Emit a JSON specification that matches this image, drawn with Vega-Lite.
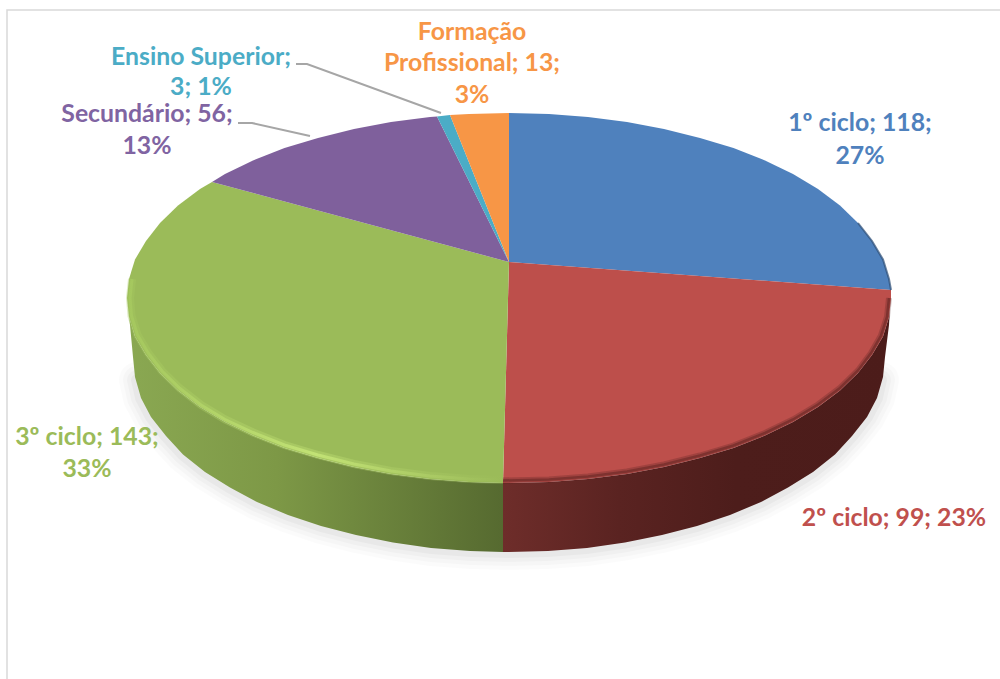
{
"$schema":"https://vega.github.io/schema/vega-lite/v6.json",
"width":1000,"height":679,"autosize":"none","padding":0,"background":"white",
"config":{"view":{"stroke":null}},
"datasets":{
"faces":[
{"category":"1º ciclo","x":509,"y":262},{"category":"1º ciclo","x":509,"y":113},{"category":"1º ciclo","x":549,"y":114},{"category":"1º ciclo","x":588,"y":117},{"category":"1º ciclo","x":627,"y":122},{"category":"1º ciclo","x":664,"y":129},{"category":"1º ciclo","x":700,"y":138},{"category":"1º ciclo","x":733.5,"y":148},{"category":"1º ciclo","x":765,"y":160.5},{"category":"1º ciclo","x":793,"y":174},{"category":"1º ciclo","x":818,"y":189},{"category":"1º ciclo","x":840,"y":205.5},{"category":"1º ciclo","x":858,"y":223},{"category":"1º ciclo","x":872,"y":241},{"category":"1º ciclo","x":883,"y":259.5},{"category":"1º ciclo","x":889,"y":279},{"category":"1º ciclo","x":891,"y":290},
{"category":"2º ciclo","x":509,"y":262},{"category":"2º ciclo","x":891,"y":290},{"category":"2º ciclo","x":891,"y":298},{"category":"2º ciclo","x":889,"y":317},{"category":"2º ciclo","x":883,"y":336.5},{"category":"2º ciclo","x":872,"y":355},{"category":"2º ciclo","x":858,"y":373},{"category":"2º ciclo","x":840,"y":390.5},{"category":"2º ciclo","x":818,"y":407},{"category":"2º ciclo","x":793,"y":422},{"category":"2º ciclo","x":765,"y":435.5},{"category":"2º ciclo","x":733.5,"y":448},{"category":"2º ciclo","x":700,"y":458},{"category":"2º ciclo","x":664,"y":467},{"category":"2º ciclo","x":627,"y":474},{"category":"2º ciclo","x":588,"y":479},{"category":"2º ciclo","x":549,"y":482},{"category":"2º ciclo","x":509,"y":483},{"category":"2º ciclo","x":503,"y":483},
{"category":"3º ciclo","x":509,"y":262},{"category":"3º ciclo","x":503,"y":483},{"category":"3º ciclo","x":469,"y":482},{"category":"3º ciclo","x":430,"y":479},{"category":"3º ciclo","x":391,"y":474},{"category":"3º ciclo","x":354,"y":467},{"category":"3º ciclo","x":318,"y":458},{"category":"3º ciclo","x":284.5,"y":448},{"category":"3º ciclo","x":253,"y":435.5},{"category":"3º ciclo","x":225,"y":422},{"category":"3º ciclo","x":200,"y":407},{"category":"3º ciclo","x":178,"y":390.5},{"category":"3º ciclo","x":160,"y":373},{"category":"3º ciclo","x":146,"y":355},{"category":"3º ciclo","x":135,"y":336.5},{"category":"3º ciclo","x":129,"y":317},{"category":"3º ciclo","x":127,"y":298},{"category":"3º ciclo","x":129,"y":279},{"category":"3º ciclo","x":135,"y":259.5},{"category":"3º ciclo","x":146,"y":241},{"category":"3º ciclo","x":160,"y":223},{"category":"3º ciclo","x":178,"y":205.5},{"category":"3º ciclo","x":200,"y":189},{"category":"3º ciclo","x":212,"y":182},
{"category":"Secundário","x":509,"y":262},{"category":"Secundário","x":212,"y":182},{"category":"Secundário","x":225,"y":174},{"category":"Secundário","x":253,"y":160.5},{"category":"Secundário","x":284.5,"y":148},{"category":"Secundário","x":318,"y":138},{"category":"Secundário","x":354,"y":129},{"category":"Secundário","x":391,"y":122},{"category":"Secundário","x":430,"y":117},{"category":"Secundário","x":437,"y":116.5},
{"category":"Ensino Superior","x":509,"y":262},{"category":"Ensino Superior","x":437,"y":116.5},{"category":"Ensino Superior","x":450,"y":115},
{"category":"Formação Profissional","x":509,"y":262},{"category":"Formação Profissional","x":450,"y":115},{"category":"Formação Profissional","x":469,"y":114},{"category":"Formação Profissional","x":509,"y":113}
],
"redWall":[{"x":891,"y":290},{"x":891,"y":298},{"x":889,"y":317},{"x":883,"y":336.5},{"x":872,"y":355},{"x":858,"y":373},{"x":840,"y":390.5},{"x":818,"y":407},{"x":793,"y":422},{"x":765,"y":435.5},{"x":733.5,"y":448},{"x":700,"y":458},{"x":664,"y":467},{"x":627,"y":474},{"x":588,"y":479},{"x":549,"y":482},{"x":509,"y":483},{"x":503,"y":483},{"x":503,"y":552},{"x":509,"y":552},{"x":548,"y":551},{"x":587,"y":548},{"x":625,"y":542.5},{"x":662,"y":535},{"x":697,"y":526},{"x":730,"y":515},{"x":761,"y":502},{"x":788,"y":487.5},{"x":813,"y":472},{"x":835,"y":454.5},{"x":852,"y":436},{"x":867,"y":417},{"x":877,"y":398},{"x":883,"y":377},{"x":885,"y":357},{"x":889,"y":325}],
"greenWall":[{"x":503,"y":483},{"x":469,"y":482},{"x":430,"y":479},{"x":391,"y":474},{"x":354,"y":467},{"x":318,"y":458},{"x":284.5,"y":448},{"x":253,"y":435.5},{"x":225,"y":422},{"x":200,"y":407},{"x":178,"y":390.5},{"x":160,"y":373},{"x":146,"y":355},{"x":135,"y":336.5},{"x":129,"y":317},{"x":127,"y":298},{"x":130,"y":325},{"x":133,"y":357},{"x":135,"y":377},{"x":141,"y":398},{"x":151,"y":417},{"x":166,"y":436},{"x":183,"y":454.5},{"x":205,"y":472},{"x":230,"y":487.5},{"x":257,"y":502},{"x":288,"y":515},{"x":321,"y":526},{"x":356,"y":535},{"x":393,"y":542.5},{"x":431,"y":548},{"x":470,"y":551},{"x":503,"y":552}],
"lowerEdge":[{"x":881,"y":380},{"x":877,"y":398},{"x":867,"y":417},{"x":852,"y":436},{"x":835,"y":454.5},{"x":813,"y":472},{"x":788,"y":487.5},{"x":761,"y":502},{"x":730,"y":515},{"x":697,"y":526},{"x":662,"y":535},{"x":625,"y":542.5},{"x":587,"y":548},{"x":548,"y":551},{"x":509,"y":552},{"x":470,"y":551},{"x":431,"y":548},{"x":393,"y":542.5},{"x":356,"y":535},{"x":321,"y":526},{"x":288,"y":515},{"x":257,"y":502},{"x":230,"y":487.5},{"x":205,"y":472},{"x":183,"y":454.5},{"x":166,"y":436},{"x":151,"y":417},{"x":141,"y":398},{"x":137,"y":380}],
"greenRim":[{"x":503,"y":480},{"x":469,"y":479},{"x":430,"y":476},{"x":391,"y":471},{"x":354,"y":464},{"x":318,"y":455},{"x":284.5,"y":445},{"x":253,"y":432.5},{"x":225,"y":419.5},{"x":201,"y":405},{"x":180,"y":388.5},{"x":162,"y":371},{"x":148.5,"y":353.5},{"x":137.5,"y":335},{"x":131.5,"y":316},{"x":130,"y":298},{"x":132,"y":279}],
"redRim":[{"x":503,"y":480.5},{"x":549,"y":479.5},{"x":588,"y":476.5},{"x":627,"y":471.5},{"x":664,"y":464.5},{"x":700,"y":455.5},{"x":733.5,"y":445.5},{"x":765,"y":433},{"x":793,"y":419.5},{"x":818,"y":404.5},{"x":840,"y":388},{"x":858,"y":370.5},{"x":871,"y":353},{"x":881,"y":335.5},{"x":887,"y":317},{"x":889,"y":298}],
"blueRim":[{"x":858,"y":223},{"x":872,"y":241},{"x":883,"y":259.5},{"x":889,"y":279},{"x":891,"y":290}],
"leaders":[{"label":"Ensino Superior","x":296,"y":64},{"label":"Ensino Superior","x":307,"y":64},{"label":"Ensino Superior","x":441,"y":113},{"label":"Secundário","x":238,"y":123},{"label":"Secundário","x":252,"y":123},{"label":"Secundário","x":310,"y":136}],
"frame":[{"x":7,"y":679},{"x":7,"y":10},{"x":1000,"y":10}],
"labels":[
{"category":"1º ciclo","text":"1º ciclo; 118;","x":860,"y":124},{"category":"1º ciclo","text":"27%","x":860,"y":157},
{"category":"2º ciclo","text":"2º ciclo; 99; 23%","x":894,"y":519},
{"category":"3º ciclo","text":"3º ciclo; 143;","x":87,"y":438},{"category":"3º ciclo","text":"33%","x":87,"y":470},
{"category":"Secundário","text":"Secundário; 56;","x":147,"y":115},{"category":"Secundário","text":"13%","x":147,"y":147},
{"category":"Ensino Superior","text":"Ensino Superior;","x":201,"y":58},{"category":"Ensino Superior","text":"3; 1%","x":201,"y":88},
{"category":"Formação Profissional","text":"Formação","x":472,"y":33},{"category":"Formação Profissional","text":"Profissional; 13;","x":472,"y":64},{"category":"Formação Profissional","text":"3%","x":472,"y":96}
]},
"encoding":{
"x":{"field":"x","type":"quantitative","axis":null,"scale":{"domain":[0,1000],"nice":false,"zero":false}},
"y":{"field":"y","type":"quantitative","axis":null,"scale":{"domain":[679,0],"nice":false,"zero":false}}
},
"layer":[
{"data":{"name":"frame"},"transform":[{"window":[{"op":"row_number","as":"seq"}]}],"mark":{"type":"line","stroke":"#d9d9d9","strokeWidth":1.5},"encoding":{"order":{"field":"seq","type":"quantitative"}}},
{"data":{"name":"lowerEdge"},"transform":[{"window":[{"op":"row_number","as":"seq"}]}],"mark":{"type":"line","stroke":"#000000","strokeOpacity":0.015,"strokeWidth":36,"strokeCap":"round"},"encoding":{"order":{"field":"seq","type":"quantitative"}}},
{"data":{"name":"lowerEdge"},"transform":[{"window":[{"op":"row_number","as":"seq"}]}],"mark":{"type":"line","stroke":"#000000","strokeOpacity":0.02,"strokeWidth":28,"strokeCap":"round"},"encoding":{"order":{"field":"seq","type":"quantitative"}}},
{"data":{"name":"lowerEdge"},"transform":[{"window":[{"op":"row_number","as":"seq"}]}],"mark":{"type":"line","stroke":"#000000","strokeOpacity":0.025,"strokeWidth":20,"strokeCap":"round"},"encoding":{"order":{"field":"seq","type":"quantitative"}}},
{"data":{"name":"lowerEdge"},"transform":[{"window":[{"op":"row_number","as":"seq"}]}],"mark":{"type":"line","stroke":"#000000","strokeOpacity":0.03,"strokeWidth":12,"strokeCap":"round"},"encoding":{"order":{"field":"seq","type":"quantitative"}}},
{"data":{"name":"redWall"},"transform":[{"window":[{"op":"row_number","as":"seq"}]}],"mark":{"type":"line","strokeWidth":0,"fill":{"gradient":"linear","x1":0,"y1":0,"x2":1,"y2":0,"stops":[{"offset":0,"color":"#6e2d2a"},{"offset":0.3,"color":"#5a2321"},{"offset":0.6,"color":"#4d1d1b"},{"offset":1,"color":"#4c1c1a"}]}},"encoding":{"order":{"field":"seq","type":"quantitative"}}},
{"data":{"name":"greenWall"},"transform":[{"window":[{"op":"row_number","as":"seq"}]}],"mark":{"type":"line","strokeWidth":0,"fill":{"gradient":"linear","x1":0,"y1":0,"x2":1,"y2":0,"stops":[{"offset":0,"color":"#8aa852"},{"offset":0.4,"color":"#7d9846"},{"offset":0.6,"color":"#70893f"},{"offset":1,"color":"#566a30"}]}},"encoding":{"order":{"field":"seq","type":"quantitative"}}},
{"data":{"name":"faces"},"transform":[{"window":[{"op":"row_number","as":"seq"}]}],"mark":{"type":"line","strokeWidth":0},"encoding":{"order":{"field":"seq","type":"quantitative"},"fill":{"field":"category","type":"nominal","legend":null,"scale":{"domain":["1º ciclo","2º ciclo","3º ciclo","Secundário","Ensino Superior","Formação Profissional"],"range":["#4f81bd","#bd4f4b","#9bbb59","#7f609c","#4bacc6","#f79646"]}}}},
{"data":{"name":"greenRim"},"transform":[{"window":[{"op":"row_number","as":"seq"}]}],"mark":{"type":"line","strokeWidth":8,"strokeOpacity":0.35,"stroke":{"gradient":"linear","x1":0,"y1":0,"x2":1,"y2":0,"stops":[{"offset":0,"color":"#a6c95f"},{"offset":0.5,"color":"#c6e678"},{"offset":1,"color":"#9bbb59"}]}},"encoding":{"order":{"field":"seq","type":"quantitative"}}},
{"data":{"name":"greenRim"},"transform":[{"window":[{"op":"row_number","as":"seq"}]}],"mark":{"type":"line","strokeWidth":3,"strokeOpacity":0.85,"stroke":{"gradient":"linear","x1":0,"y1":0,"x2":1,"y2":0,"stops":[{"offset":0,"color":"#a6c95f"},{"offset":0.5,"color":"#c6e678"},{"offset":1,"color":"#9bbb59"}]}},"encoding":{"order":{"field":"seq","type":"quantitative"}}},
{"data":{"name":"redRim"},"transform":[{"window":[{"op":"row_number","as":"seq"}]}],"mark":{"type":"line","stroke":"#4c1c1a","strokeWidth":6,"strokeOpacity":0.25},"encoding":{"order":{"field":"seq","type":"quantitative"}}},
{"data":{"name":"redRim"},"transform":[{"window":[{"op":"row_number","as":"seq"}]}],"mark":{"type":"line","stroke":"#4c1c1a","strokeWidth":2.5,"strokeOpacity":0.4},"encoding":{"order":{"field":"seq","type":"quantitative"}}},
{"data":{"name":"blueRim"},"transform":[{"window":[{"op":"row_number","as":"seq"}]}],"mark":{"type":"line","stroke":"#2c4d75","strokeWidth":2,"strokeOpacity":0.7},"encoding":{"order":{"field":"seq","type":"quantitative"}}},
{"data":{"name":"leaders"},"transform":[{"window":[{"op":"row_number","as":"seq"}]}],"mark":{"type":"line","stroke":"#a6a6a6","strokeWidth":2},"encoding":{"order":{"field":"seq","type":"quantitative"},"detail":{"field":"label"}}},
{"data":{"name":"labels"},"mark":{"type":"text","font":"Lato","fontWeight":"bold","fontSize":24.8,"align":"center","baseline":"middle"},"encoding":{"text":{"field":"text"},"color":{"field":"category","type":"nominal","legend":null,"scale":{"domain":["1º ciclo","2º ciclo","3º ciclo","Secundário","Ensino Superior","Formação Profissional"],"range":["#4f81bd","#c0504d","#9bbb59","#8064a2","#4bacc6","#f79646"]}}}}
]
}
